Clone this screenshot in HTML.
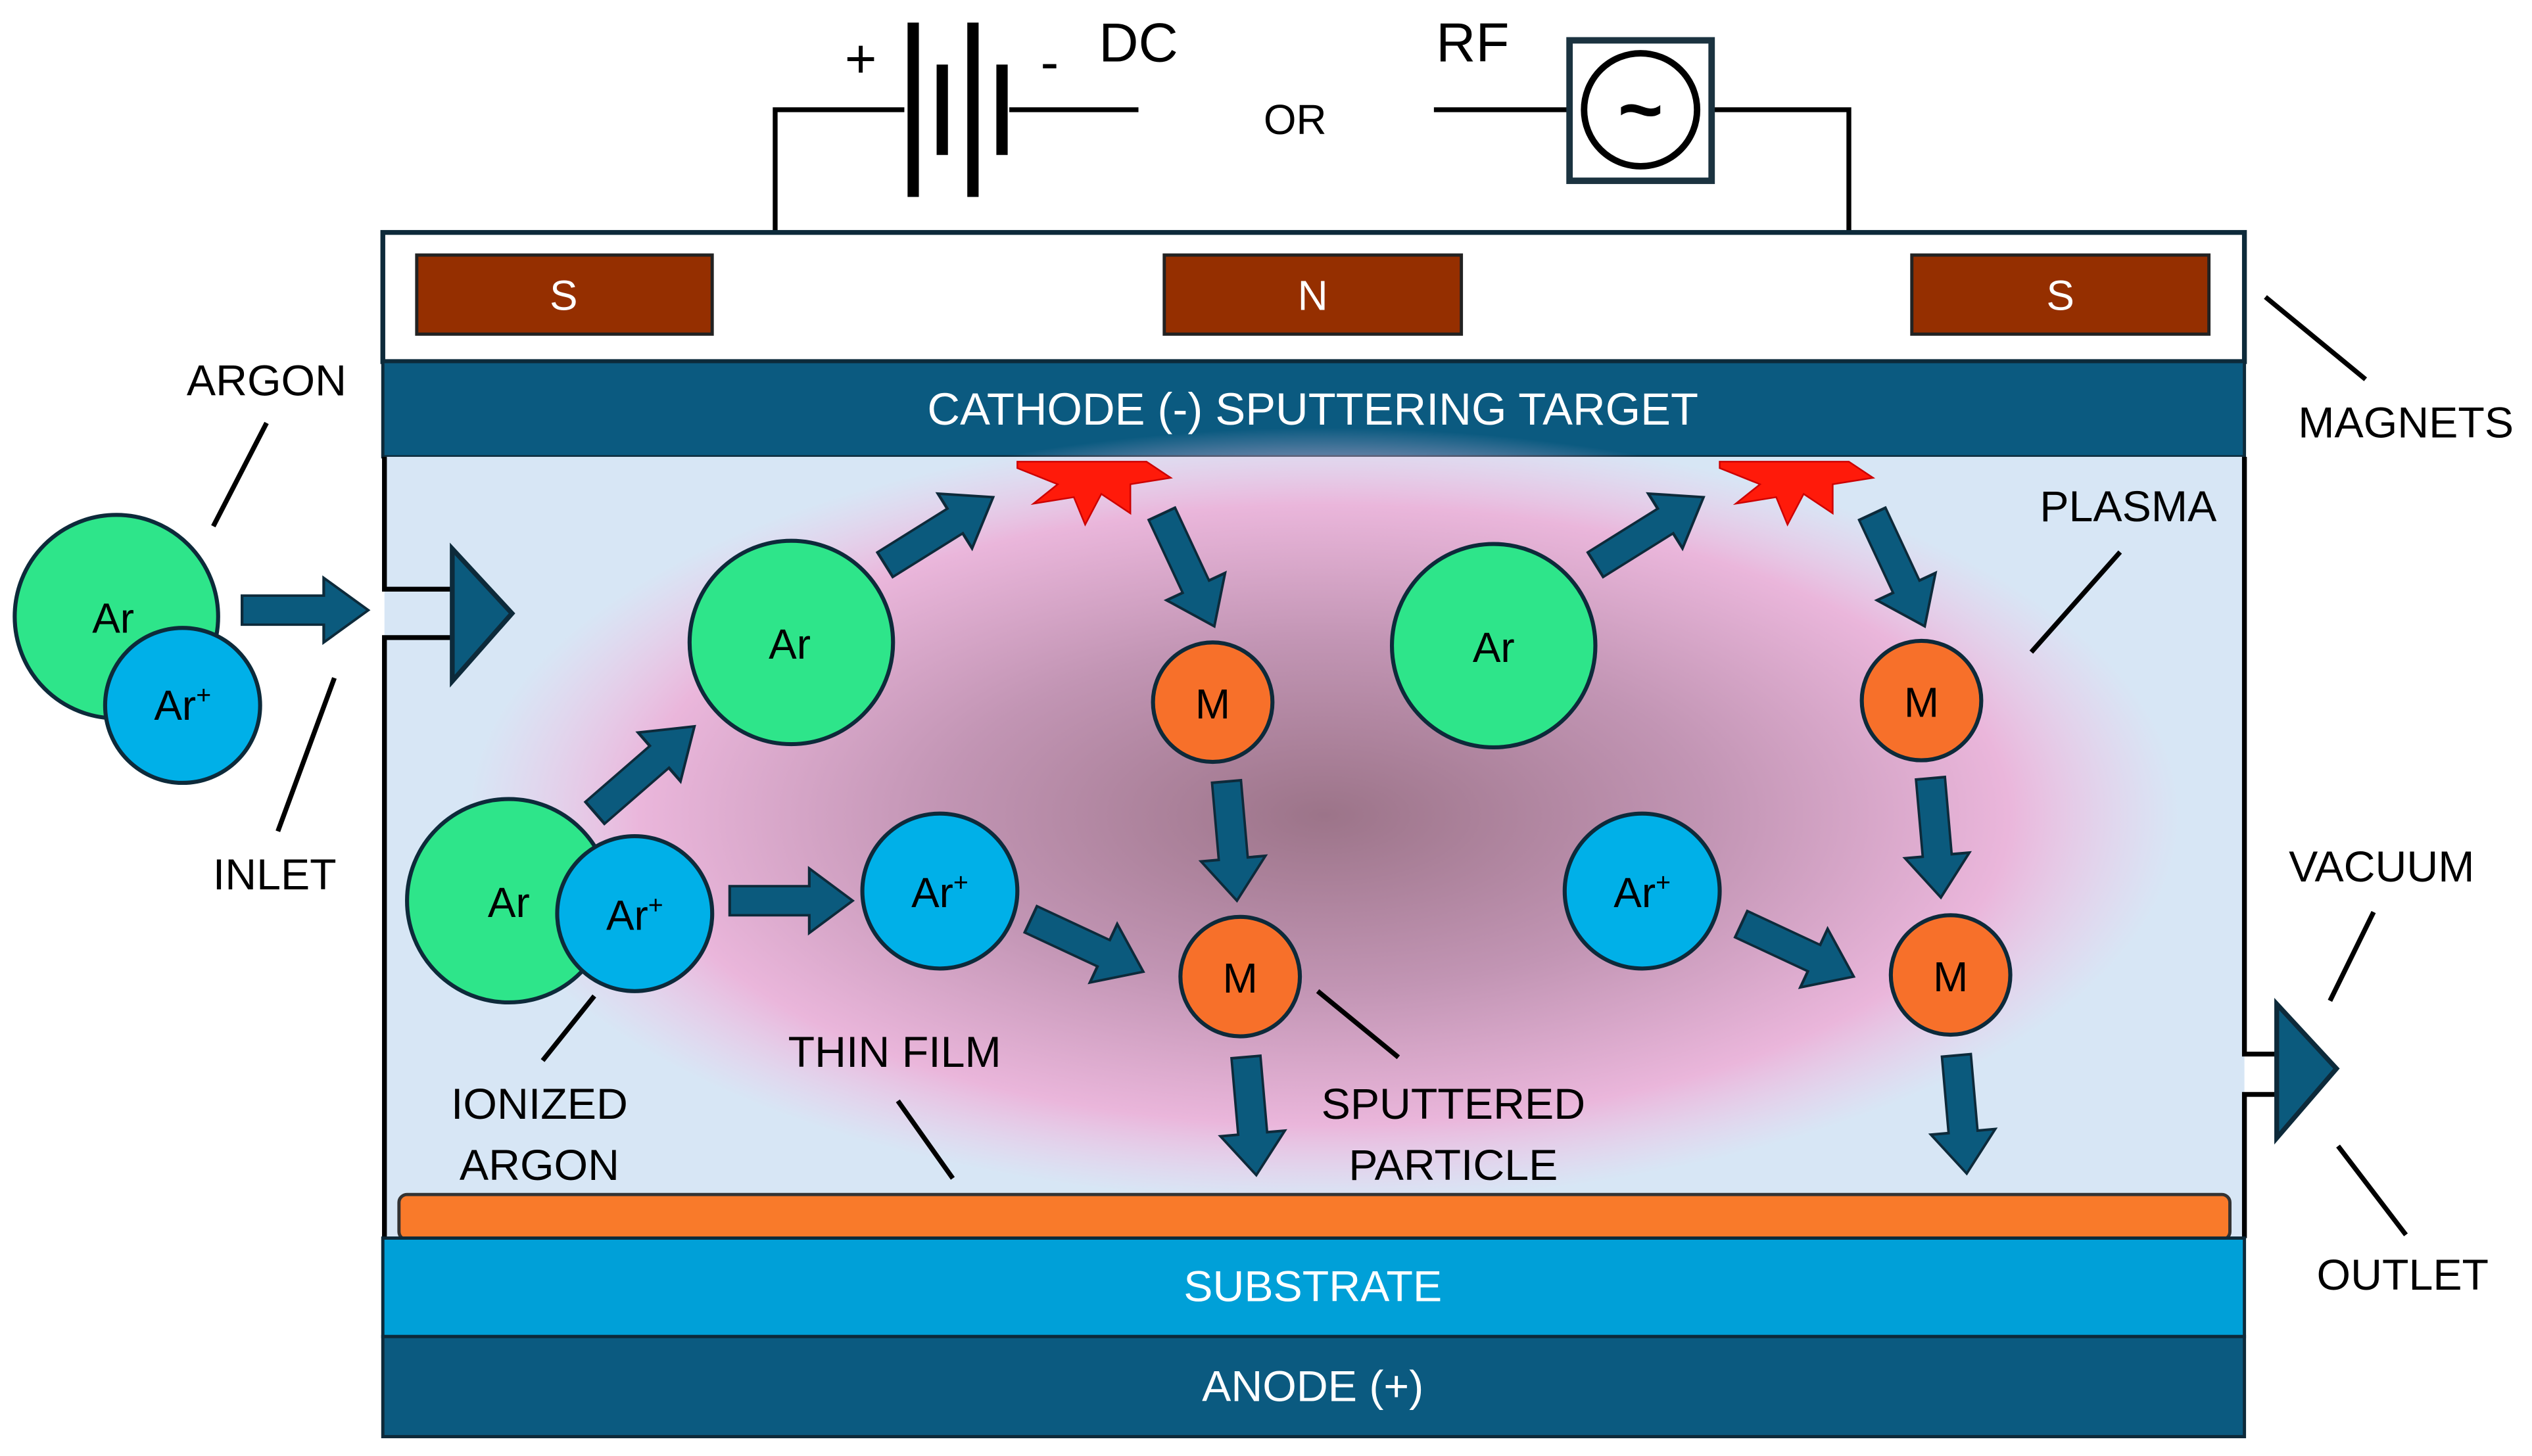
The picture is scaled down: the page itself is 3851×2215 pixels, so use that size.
<!DOCTYPE html>
<html><head><meta charset="utf-8"><style>html,body{margin:0;padding:0;background:#fff}svg{display:block}</style></head>
<body>
<svg width="3851" height="2215" viewBox="0 0 1568 902" xmlns="http://www.w3.org/2000/svg" font-family="Liberation Sans, sans-serif">
<defs>
<radialGradient id="pl" cx="0.5" cy="0.5" r="0.5">
<stop offset="0" stop-color="#9c7489"/>
<stop offset="0.45" stop-color="#c295b4"/>
<stop offset="0.8" stop-color="#eab6db"/>
<stop offset="1" stop-color="#f2c4e6" stop-opacity="0"/>
</radialGradient>
<g id="arr"><path d="M-68,-9 L-24,-9 L-24,-20 L0,0 L-24,20 L-24,9 L-68,9 Z"/></g>
</defs>
<rect width="1568" height="902" fill="#fff"/>
<g stroke="#000" stroke-width="3" fill="none">
<polyline points="480,143 480,68 560,68"/>
<line x1="625" y1="68" x2="705" y2="68"/>
<line x1="888" y1="68" x2="972" y2="68"/>
<polyline points="1060,68 1145,68 1145,143"/>
</g>
<g fill="#000">
<rect x="562" y="14" width="7" height="108"/><rect x="580" y="40" width="7" height="56"/>
<rect x="599" y="14" width="7" height="108"/><rect x="617" y="40" width="7" height="56"/>
</g>
<text x="533" y="48" font-size="34" text-anchor="middle">+</text>
<text x="650" y="50" font-size="34" text-anchor="middle">-</text>
<text x="705" y="38" font-size="34" text-anchor="middle">DC</text>
<text x="802" y="83" font-size="26" text-anchor="middle">OR</text>
<text x="912" y="38" font-size="34" text-anchor="middle">RF</text>
<rect x="972" y="25" width="88" height="87" fill="#fff" stroke="#1b3340" stroke-width="4"/>
<circle cx="1016" cy="68" r="35" fill="#fff" stroke="#000" stroke-width="4"/>
<text x="1016" y="84" font-size="48" font-weight="bold" text-anchor="middle">~</text>
<rect x="237" y="144" width="1153" height="80" fill="#fff" stroke="#0d2a3a" stroke-width="3"/>
<g fill="#952f00" stroke="#222" stroke-width="2">
<rect x="258" y="158" width="183" height="49"/><rect x="721" y="158" width="184" height="49"/><rect x="1184" y="158" width="184" height="49"/>
</g>
<g fill="#fff" font-size="26" text-anchor="middle"><text x="349" y="192">S</text><text x="813" y="192">N</text><text x="1276" y="192">S</text></g>
<rect x="237" y="224" width="1153" height="59" fill="#0b5a80" stroke="#0d2a3a" stroke-width="2"/>
<text x="813" y="263" font-size="28" fill="#fff" text-anchor="middle">CATHODE (-) SPUTTERING TARGET</text>
<rect x="238" y="283" width="1152" height="484" fill="#d7e6f5"/>
<ellipse cx="820" cy="505" rx="530" ry="240" fill="url(#pl)"/>
<g stroke="#000" stroke-width="3" fill="none">
<polyline points="238,283 238,365 280,365"/><polyline points="280,395 238,395 238,767"/>
<polyline points="1390,283 1390,653 1410,653"/><polyline points="1410,678 1390,678 1390,767"/>
</g>
<path d="M280,340 L317,380 L280,422 Z" fill="#0b5a7d" stroke="#0d2a3a" stroke-width="3"/>
<path d="M1410,622 L1447,662 L1410,705 Z" fill="#0b5a7d" stroke="#0d2a3a" stroke-width="3"/>
<rect x="247" y="740" width="1134" height="28" rx="5" fill="#f97a2a" stroke="#333" stroke-width="2"/>
<rect x="237" y="767" width="1153" height="61" fill="#00a0d8" stroke="#0d2a3a" stroke-width="2"/>
<text x="813" y="806" font-size="27" fill="#fff" text-anchor="middle">SUBSTRATE</text>
<rect x="237" y="828" width="1153" height="62" fill="#0b5a80" stroke="#0d2a3a" stroke-width="2"/>
<text x="813" y="868" font-size="27" fill="#fff" text-anchor="middle">ANODE (+)</text>
<g fill="#ff1a0a" stroke="#c00" stroke-width="1">
<path d="M630,290 L655,300 L640,312 L665,308 L672,325 L682,306 L700,318 L700,300 L725,296 L710,286 L630,286 Z"/>
<path d="M1065,290 L1090,300 L1075,312 L1100,308 L1107,325 L1117,306 L1135,318 L1135,300 L1160,296 L1145,286 L1065,286 Z"/>
</g>
<g fill="#0b5a7d" stroke="#0d2a3a" stroke-width="1.5">
<use href="#arr" transform="translate(228,378) rotate(0) scale(1.15,1)"/>
<use href="#arr" transform="translate(615,308) rotate(-32) scale(1.16,1)"/>
<use href="#arr" transform="translate(752,388) rotate(65) scale(1.13,1)"/>
<use href="#arr" transform="translate(430,450) rotate(-41) scale(1.2,1)"/>
<use href="#arr" transform="translate(528,558) rotate(0) scale(1.12,1)"/>
<use href="#arr" transform="translate(708,602) rotate(25) scale(1.13,1)"/>
<use href="#arr" transform="translate(766,558) rotate(85) scale(1.09,1)"/>
<use href="#arr" transform="translate(778,728) rotate(85) scale(1.08,1)"/>
<use href="#arr" transform="translate(1055,308) rotate(-32) scale(1.16,1)"/>
<use href="#arr" transform="translate(1192,388) rotate(65) scale(1.13,1)"/>
<use href="#arr" transform="translate(1202,556) rotate(85) scale(1.09,1)"/>
<use href="#arr" transform="translate(1148,605) rotate(25) scale(1.13,1)"/>
<use href="#arr" transform="translate(1218,727) rotate(85) scale(1.08,1)"/>
</g>
<g stroke="#0d2a3a" stroke-width="2.5">
<circle cx="72" cy="382" r="63" fill="#2ee58a"/><circle cx="113" cy="437" r="48" fill="#00b0e8"/>
<circle cx="490" cy="398" r="63" fill="#2ee58a"/><circle cx="925" cy="400" r="63" fill="#2ee58a"/>
<circle cx="315" cy="558" r="63" fill="#2ee58a"/><circle cx="393" cy="566" r="48" fill="#00b0e8"/>
<circle cx="582" cy="552" r="48" fill="#00b0e8"/><circle cx="1017" cy="552" r="48" fill="#00b0e8"/>
<circle cx="751" cy="435" r="37" fill="#f7702a"/><circle cx="768" cy="605" r="37" fill="#f7702a"/>
<circle cx="1190" cy="434" r="37" fill="#f7702a"/><circle cx="1208" cy="604" r="37" fill="#f7702a"/>
</g>
<g font-size="26" text-anchor="middle" fill="#000">
<text x="70" y="392">Ar</text><text x="113" y="446">Ar<tspan font-size="16" dy="-10">+</tspan></text>
<text x="489" y="408">Ar</text><text x="925" y="410">Ar</text>
<text x="315" y="568">Ar</text><text x="393" y="576">Ar<tspan font-size="16" dy="-10">+</tspan></text>
<text x="582" y="562">Ar<tspan font-size="16" dy="-10">+</tspan></text><text x="1017" y="562">Ar<tspan font-size="16" dy="-10">+</tspan></text>
<text x="751" y="445">M</text><text x="768" y="615">M</text><text x="1190" y="444">M</text><text x="1208" y="614">M</text>
</g>
<g font-size="27" text-anchor="middle" fill="#000">
<text x="165" y="245">ARGON</text><text x="170" y="551">INLET</text>
<text x="334" y="693">IONIZED</text><text x="334" y="731">ARGON</text>
<text x="554" y="661">THIN FILM</text>
<text x="900" y="693">SPUTTERED</text><text x="900" y="731">PARTICLE</text>
<text x="1318" y="323">PLASMA</text><text x="1490" y="271">MAGNETS</text>
<text x="1475" y="546">VACUUM</text><text x="1488" y="799">OUTLET</text>
</g>
<g stroke="#000" stroke-width="3">
<line x1="132" y1="326" x2="165" y2="262"/><line x1="207" y1="420" x2="172" y2="515"/>
<line x1="368" y1="617" x2="336" y2="657"/><line x1="556" y1="682" x2="590" y2="730"/>
<line x1="816" y1="614" x2="866" y2="655"/><line x1="1258" y1="404" x2="1313" y2="342"/>
<line x1="1403" y1="184" x2="1465" y2="235"/><line x1="1470" y1="565" x2="1443" y2="620"/>
<line x1="1448" y1="710" x2="1490" y2="765"/>
</g>
</svg>
</body></html>
